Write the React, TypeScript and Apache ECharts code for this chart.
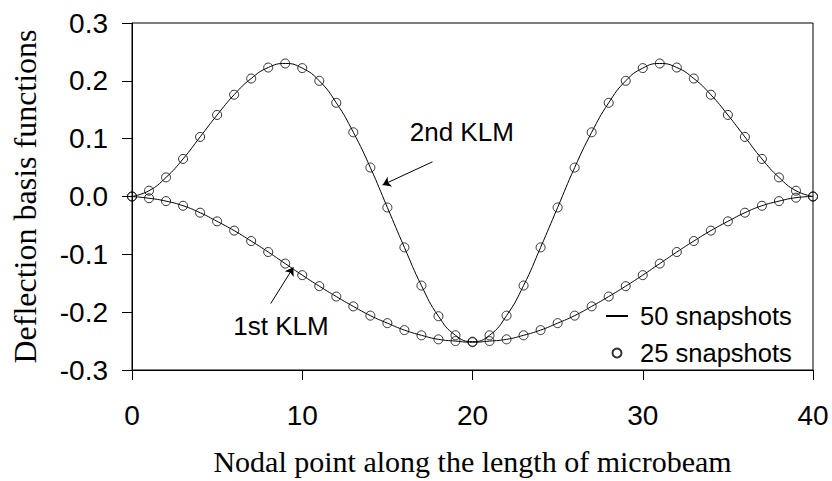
import React, { useEffect, useRef } from "react";
import * as echarts from "echarts";

// Nodal points along the microbeam
const nodePoints = [
  0, 1, 2, 3, 4, 5, 6, 7, 8, 9, 10, 11, 12, 13, 14, 15, 16, 17, 18, 19, 20,
  21, 22, 23, 24, 25, 26, 27, 28, 29, 30, 31, 32, 33, 34, 35, 36, 37, 38, 39, 40,
];

// First Karhunen-Loeve mode (deflection basis function)
const firstKLM = [
  0, -0.003, -0.008, -0.016, -0.028, -0.043, -0.059, -0.077, -0.096, -0.116,
  -0.136, -0.155, -0.173, -0.19, -0.206, -0.219, -0.231, -0.24, -0.247, -0.25,
  -0.252, -0.25, -0.247, -0.24, -0.231, -0.219, -0.206, -0.19, -0.173, -0.155,
  -0.136, -0.116, -0.096, -0.077, -0.059, -0.043, -0.028, -0.016, -0.008, -0.002, 0,
];

// Second Karhunen-Loeve mode
const secondKLM = [
  0, 0.01, 0.033, 0.065, 0.103, 0.141, 0.176, 0.204, 0.223, 0.23,
  0.222, 0.2, 0.162, 0.111, 0.05, -0.019, -0.088, -0.154, -0.207, -0.24,
  -0.251, -0.24, -0.206, -0.154, -0.088, -0.019, 0.05, 0.111, 0.162, 0.2,
  0.222, 0.23, 0.223, 0.204, 0.176, 0.141, 0.103, 0.065, 0.033, 0.01, 0,
];

const legendNames = ["50 snapshots", "25 snapshots"];

// Callout positions (data coordinates)
const secondArrow = [[17.65, 0.06], [14.72, 0.02]];
const firstArrow = [[8.15, -0.185], [9.48, -0.1225]];
const secondLabel = [19.37, 0.1116];
const firstLabel = [8.75, -0.224];

const SANS = "'Liberation Sans', Arial, sans-serif";
const SERIF = "'Liberation Serif', 'Times New Roman', serif";

const toPairs = (ys: number[]) => nodePoints.map((x, i) => [x, ys[i]]);

export default function App() {
  const ref = useRef<HTMLDivElement>(null);

  useEffect(() => {
    document.body.style.margin = "0";
    if (!ref.current) return;
    const chart = echarts.init(ref.current, null, { renderer: "svg" });

    const lineSeries = (ys: number[], extra: any = {}) => ({
      type: "line",
      name: legendNames[0],
      data: toPairs(ys),
      smooth: true,
      symbol: "none",
      showSymbol: false,
      lineStyle: { color: "#000", width: 1 },
      // transparent item colour keeps the legend icon a plain line
      itemStyle: { color: "rgba(0,0,0,0)", borderWidth: 0 },
      z: 2,
      ...extra,
    });

    const markerSeries = (ys: number[]) => ({
      type: "scatter",
      name: legendNames[1],
      data: toPairs(ys),
      symbol: "circle",
      symbolSize: 9,
      itemStyle: {
        color: "rgba(255,255,255,0)",
        borderColor: "#000",
        borderWidth: 1,
      },
      z: 3,
    });

    const calloutLabel = (coord: number[], text: string) => ({
      coord,
      symbol: "rect",
      symbolSize: 1,
      itemStyle: { color: "rgba(0,0,0,0)" },
      label: {
        show: true,
        position: "inside",
        formatter: text,
        color: "#000",
        fontFamily: SANS,
        fontSize: 26,
      },
    });

    chart.setOption({
      animation: false,
      backgroundColor: "#fff",
      grid: {
        left: 132,
        right: 19,
        top: 23,
        bottom: 111,
        show: true,
        borderColor: "#000",
        borderWidth: 1,
        backgroundColor: "transparent",
      },
      legend: {
        orient: "vertical",
        left: 600,
        top: 298,
        itemWidth: 22,
        itemHeight: 9,
        itemGap: 11,
        selectedMode: false,
        data: legendNames,
        formatter: " {name}",
        textStyle: {
          color: "#000",
          fontFamily: SANS,
          fontSize: 25.5,
          lineHeight: 26,
        },
      },
      xAxis: {
        type: "value",
        min: 0,
        max: 40,
        interval: 10,
        name: "Nodal point along the length of microbeam",
        nameLocation: "middle",
        nameGap: 76,
        nameTextStyle: { color: "#000", fontFamily: SERIF, fontSize: 30 },
        axisLine: { onZero: false, lineStyle: { color: "#000", width: 1 } },
        axisTick: { length: 10, lineStyle: { color: "#000" } },
        axisLabel: {
          margin: 31,
          color: "#000",
          fontFamily: SANS,
          fontSize: 28,
        },
        splitLine: { show: false },
      },
      yAxis: {
        type: "value",
        min: -0.3,
        max: 0.3,
        interval: 0.1,
        name: "Deflection basis functions",
        nameLocation: "middle",
        nameGap: 91,
        nameTextStyle: { color: "#000", fontFamily: SERIF, fontSize: 32 },
        axisLine: { onZero: false, lineStyle: { color: "#000", width: 1 } },
        axisTick: { length: 10, lineStyle: { color: "#000" } },
        axisLabel: {
          margin: 24,
          color: "#000",
          fontFamily: SANS,
          fontSize: 28,
          formatter: (v: number) => v.toFixed(1),
        },
        splitLine: { show: false },
      },
      series: [
        lineSeries(firstKLM, {
          markLine: {
            silent: true,
            symbol: ["none", "arrow"],
            symbolSize: 8,
            label: { show: false },
            lineStyle: { color: "#000", width: 1, type: "solid" },
            data: [
              [{ coord: firstArrow[0] }, { coord: firstArrow[1] }],
              [{ coord: secondArrow[0] }, { coord: secondArrow[1] }],
            ],
          },
          markPoint: {
            silent: true,
            data: [
              calloutLabel(firstLabel, "1st KLM"),
              calloutLabel(secondLabel, "2nd KLM"),
            ],
          },
        }),
        lineSeries(secondKLM),
        markerSeries(firstKLM),
        markerSeries(secondKLM),
      ],
    });

    return () => chart.dispose();
  }, []);

  return (
    <div
      ref={ref}
      style={{ position: "absolute", left: 0, top: 0, width: 832, height: 481 }}
    />
  );
}
